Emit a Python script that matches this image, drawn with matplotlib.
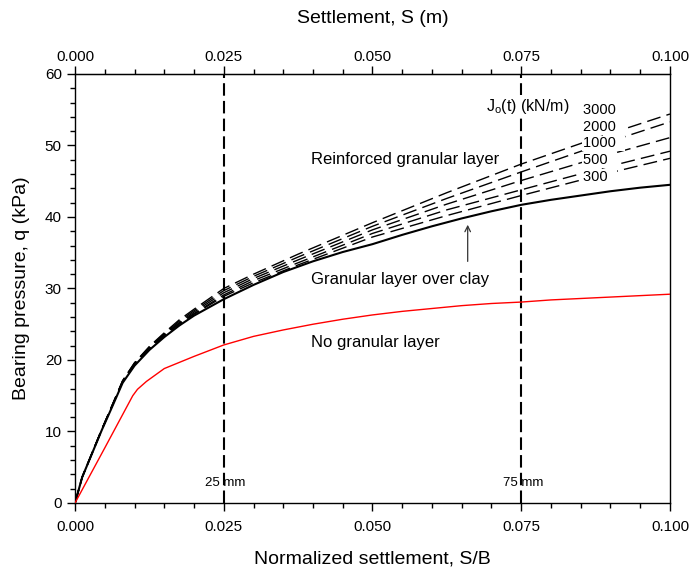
import matplotlib
matplotlib.use("Agg")
import matplotlib.pyplot as plt
from matplotlib.ticker import FixedLocator, FormatStrFormatter

plt.rcParams['font.family'] = ['Liberation Sans', 'DejaVu Sans']

# ---- data ----
x_clay = [0, 0.0012, 0.0025, 0.0045, 0.006, 0.008, 0.01, 0.0125, 0.015, 0.0175, 0.02,
          0.025, 0.03, 0.035, 0.04, 0.045, 0.05, 0.055, 0.06, 0.065, 0.07, 0.075,
          0.08, 0.085, 0.09, 0.095, 0.1]
q_clay = [0, 3.6, 6.2, 10.2, 13.0, 16.8, 19.2, 21.4, 23.2, 24.8, 26.2,
          28.5, 30.5, 32.3, 33.8, 35.1, 36.2, 37.5, 38.7, 39.8, 40.8, 41.7,
          42.4, 43.0, 43.6, 44.1, 44.5]

x_none = [0, 0.005, 0.0097, 0.0105, 0.012, 0.015, 0.02, 0.025, 0.03, 0.035, 0.04,
          0.045, 0.05, 0.055, 0.06, 0.065, 0.07, 0.075, 0.08, 0.085, 0.09, 0.095, 0.1]
q_none = [0, 7.7, 15.0, 15.9, 17.0, 18.8, 20.5, 22.1, 23.3, 24.2, 25.0,
          25.7, 26.3, 26.8, 27.2, 27.6, 27.9, 28.1, 28.4, 28.6, 28.8, 29.0, 29.2]

x_reinf = [0, 0.0012, 0.0045, 0.006, 0.008, 0.01, 0.0125, 0.015, 0.0175, 0.02,
           0.025, 0.03, 0.0375, 0.05, 0.0625, 0.075, 0.0875, 0.1]
q_3000 = [0, 3.6, 10.3, 13.2, 17.1, 19.6, 21.9, 23.8, 25.6, 27.1,
          30.0, 32.0, 34.8, 39.2, 43.4, 47.4, 51.0, 54.4]
q_2000 = [0, 3.6, 10.3, 13.2, 17.1, 19.6, 21.8, 23.7, 25.4, 26.9,
          29.7, 31.7, 34.4, 38.7, 42.6, 46.3, 49.9, 53.3]
q_1000 = [0, 3.6, 10.3, 13.2, 17.0, 19.5, 21.7, 23.6, 25.2, 26.7,
          29.4, 31.4, 34.0, 38.2, 41.8, 45.1, 48.2, 51.1]
q_500 = [0, 3.6, 10.3, 13.1, 17.0, 19.4, 21.6, 23.5, 25.1, 26.5,
         29.1, 31.1, 33.6, 37.7, 41.0, 43.8, 46.6, 49.2]
q_300 = [0, 3.6, 10.2, 13.1, 16.9, 19.3, 21.5, 23.4, 25.0, 26.4,
         28.9, 30.8, 33.3, 37.2, 40.2, 43.0, 45.7, 48.2]
reinf_series = [q_3000, q_2000, q_1000, q_500, q_300]
reinf_labels = ['3000', '2000', '1000', '500', '300']
label_y = [55.0, 52.6, 50.3, 48.0, 45.6]

mm_lines = [0.025, 0.075]
mm_labels = ['25 mm', '75 mm']

x_ticks = [0.0, 0.025, 0.05, 0.075, 0.1]
x_minor = [i * 0.005 for i in range(21)]
y_ticks = [0, 10, 20, 30, 40, 50, 60]
y_minor = list(range(0, 61, 2))

fig = plt.figure(figsize=(6.96, 5.78), dpi=100)
ax = fig.add_axes([0.1078, 0.1298, 0.8548, 0.7422])

for q in reinf_series:
    ax.plot(x_reinf, q, color='black', lw=1.0, ls=(0, (10, 4.5)), zorder=3)
ax.plot(x_clay, q_clay, color='black', lw=1.5, zorder=4)
ax.plot(x_none, q_none, color='red', lw=1.0, zorder=4)

for xv, lab in zip(mm_lines, mm_labels):
    ax.axvline(xv, color='black', lw=1.5, ls=(0, (6, 2.5)), zorder=2)
    ax.text(xv + 0.0003, 2.84, lab, fontsize=9.5, ha='center', va='center', zorder=5)

ax.text(0.0397, 48.0, 'Reinforced granular layer', fontsize=12, ha='left', va='center')
ax.text(0.0397, 31.2, 'Granular layer over clay', fontsize=12, ha='left', va='center')
ax.text(0.0397, 22.4, 'No granular layer', fontsize=12, ha='left', va='center')
ax.annotate('', xy=(0.0660, 39.3), xytext=(0.0660, 33.4),
            arrowprops=dict(arrowstyle='->', color='#333333', lw=0.9))

ax.text(0.0690, 55.5, r'J$_\mathregular{o}$(t) (kN/m)', fontsize=11.5, ha='left', va='center',
        bbox=dict(facecolor='white', edgecolor='none', pad=1.5), zorder=6)
for lab, yv in zip(reinf_labels, label_y):
    ax.text(0.0854, yv, lab + '  ', fontsize=10.5, ha='left', va='center',
            bbox=dict(facecolor='white', edgecolor='none', pad=0.5), zorder=6)

ax.set_xlim(0, 0.1)
ax.set_ylim(0, 60)
ax.xaxis.set_major_locator(FixedLocator(x_ticks))
ax.xaxis.set_minor_locator(FixedLocator(x_minor))
ax.xaxis.set_major_formatter(FormatStrFormatter('%.3f'))
ax.yaxis.set_major_locator(FixedLocator(y_ticks))
ax.yaxis.set_minor_locator(FixedLocator(y_minor))
ax.tick_params(which='major', direction='out', length=6, width=1, labelsize=11)
ax.tick_params(axis='x', which='major', pad=6)
ax.tick_params(axis='y', which='major', pad=3.5)
ax.tick_params(which='minor', direction='out', length=3.5, width=1)
ax.tick_params(right=False, which='both')

sec = ax.secondary_xaxis('top')
sec.xaxis.set_major_locator(FixedLocator(x_ticks))
sec.xaxis.set_minor_locator(FixedLocator(x_minor))
sec.xaxis.set_major_formatter(FormatStrFormatter('%.3f'))
sec.tick_params(which='major', direction='out', length=6, width=1, labelsize=11, pad=1.5)
sec.tick_params(which='minor', direction='out', length=3.5, width=1)
sec.set_xlabel('Settlement, S (m)', fontsize=14, labelpad=19)

ax.set_xlabel('Normalized settlement, S/B', fontsize=14, labelpad=12)
ax.set_ylabel('Bearing pressure, q (kPa)', fontsize=14, labelpad=11)

for s in ax.spines.values():
    s.set_linewidth(1.0)

fig.savefig('out.png', dpi=100)
